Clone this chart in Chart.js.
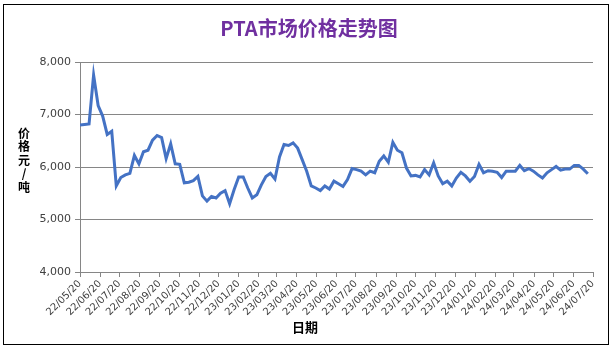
<!DOCTYPE html>
<html>
<head>
<meta charset="utf-8">
<script src="https://cdn.jsdelivr.net/npm/chart.js@4/dist/chart.umd.min.js"></script>
<style>
  html, body { margin: 0; padding: 0; background: #fff; }
  #wrap { width: 614px; height: 350px; position: relative; }
</style>
</head>
<body>
<div id="wrap"><canvas id="ptaChart"></canvas></div>
<script>
// Chart data (weekly prices)
const startDate = Date.UTC(2022, 4, 20);
const monthLabels = [
    "22/05/20", "22/06/20", "22/07/20", "22/08/20", "22/09/20", "22/10/20", "22/11/20",
    "22/12/20", "23/01/20", "23/02/20", "23/03/20", "23/04/20", "23/05/20", "23/06/20",
    "23/07/20", "23/08/20", "23/09/20", "23/10/20", "23/11/20", "23/12/20", "24/01/20",
    "24/02/20", "24/03/20", "24/04/20", "24/05/20", "24/06/20", "24/07/20"
];
const yTicks = [4000, 5000, 6000, 7000, 8000];
const prices = [
    6800, 6810, 6820, 7750, 7170, 6970, 6620, 6680, 5640, 5800,
    5850, 5880, 6220, 6060, 6290, 6320, 6510, 6600, 6560, 6160,
    6440, 6060, 6050, 5700, 5710, 5740, 5820, 5450, 5350, 5440,
    5410, 5500, 5550, 5300, 5570, 5810, 5810, 5600, 5410, 5470,
    5660, 5820, 5880, 5770, 6190, 6430, 6410, 6460, 6360, 6140,
    5920, 5640, 5600, 5550, 5640, 5580, 5730, 5680, 5630, 5760,
    5970, 5950, 5920, 5850, 5920, 5890, 6110, 6210, 6090, 6470,
    6320, 6270, 5980, 5830, 5840, 5810, 5950, 5850, 6080, 5830,
    5680, 5730, 5640, 5790, 5900, 5830, 5730, 5820, 6050, 5890,
    5930, 5920, 5900, 5800, 5920, 5920, 5920, 6030, 5930, 5970,
    5920, 5850, 5790, 5890, 5950, 6010, 5940, 5960, 5960, 6030,
    6030, 5960, 5870
];

// day offsets of each month label from the start date
const monthDays = monthLabels.map(function(lbl) {
    const yy = 2000 + parseInt(lbl.substr(0, 2));
    const mm = parseInt(lbl.substr(3, 2)) - 1;
    return Math.round((Date.UTC(yy, mm, 20) - startDate) / 86400000);
});

const points = prices.map((v, i) => ({ x: i * 7, y: v }));

// draws frame, title and axis titles
const decorPlugin = {
    id: 'decor',
    beforeDraw(chart) {
        const ctx = chart.ctx;
        ctx.save();
        ctx.fillStyle = '#ffffff';
        ctx.fillRect(0, 0, chart.width, chart.height);
        ctx.restore();
    },
    afterDraw(chart) {
        const ctx = chart.ctx;
        ctx.save();
        ctx.strokeStyle = '#000000';
        ctx.lineWidth = 1;
        ctx.strokeRect(3.5, 4.5, 605, 340);

        ctx.fillStyle = '#7030A0';
        ctx.font = 'bold 20px "Noto Sans CJK SC", sans-serif';
        ctx.textAlign = 'center';
        ctx.textBaseline = 'middle';
        ctx.fillText('PTA市场价格走势图', 309, 28);

        ctx.fillStyle = '#000000';
        ctx.font = 'bold 12px "Noto Sans CJK SC", sans-serif';
        const yTitle = ['价', '格', '元', '/', '吨'];
        yTitle.forEach((ch, i) => ctx.fillText(ch, 24, 133 + i * 13.5));

        ctx.font = 'bold 13px "Noto Sans CJK SC", sans-serif';
        ctx.fillText('日期', 305, 327);
        ctx.restore();
    }
};

document.addEventListener('DOMContentLoaded', function() {
    const ctx = document.getElementById('ptaChart').getContext('2d');

    new Chart(ctx, {
        type: 'line',
        data: {
            datasets: [{
                data: points,
                borderColor: '#4472C4',
                borderWidth: 3,
                pointRadius: 0,
                tension: 0,
                fill: false
            }]
        },
        options: {
            responsive: true,
            maintainAspectRatio: false,
            animation: false,
            layout: { padding: { left: 30, right: 21, top: 62, bottom: 8 } },
            plugins: {
                legend: { display: false },
                tooltip: { enabled: false }
            },
            scales: {
                x: {
                    type: 'linear',
                    min: 0,
                    max: monthDays[monthDays.length - 1],
                    afterBuildTicks: function(scale) {
                        scale.ticks = monthDays.map(d => ({ value: d }));
                    },
                    afterFit: function(scale) { scale.height = 70; },
                    ticks: {
                        autoSkip: false,
                        minRotation: 45,
                        maxRotation: 45,
                        padding: 1,
                        color: '#404040',
                        font: { family: 'DejaVu Sans', size: 10 },
                        callback: function(value) {
                            const idx = monthDays.indexOf(value);
                            return idx >= 0 ? monthLabels[idx] : '';
                        }
                    },
                    grid: {
                        drawOnChartArea: false,
                        drawTicks: true,
                        tickLength: 5,
                        color: '#868686'
                    },
                    border: { color: '#868686' }
                },
                y: {
                    min: 4000,
                    max: 8000,
                    afterBuildTicks: function(scale) {
                        scale.ticks = yTicks.map(v => ({ value: v }));
                    },
                    afterFit: function(scale) { scale.width = 50; },
                    ticks: {
                        padding: 4,
                        color: '#404040',
                        font: { family: 'DejaVu Sans', size: 11 },
                        callback: v => v.toLocaleString('en-US')
                    },
                    grid: {
                        color: '#868686',
                        tickLength: 5
                    },
                    border: { color: '#868686' }
                }
            }
        },
        plugins: [decorPlugin]
    });
});
</script>
</body>
</html>
